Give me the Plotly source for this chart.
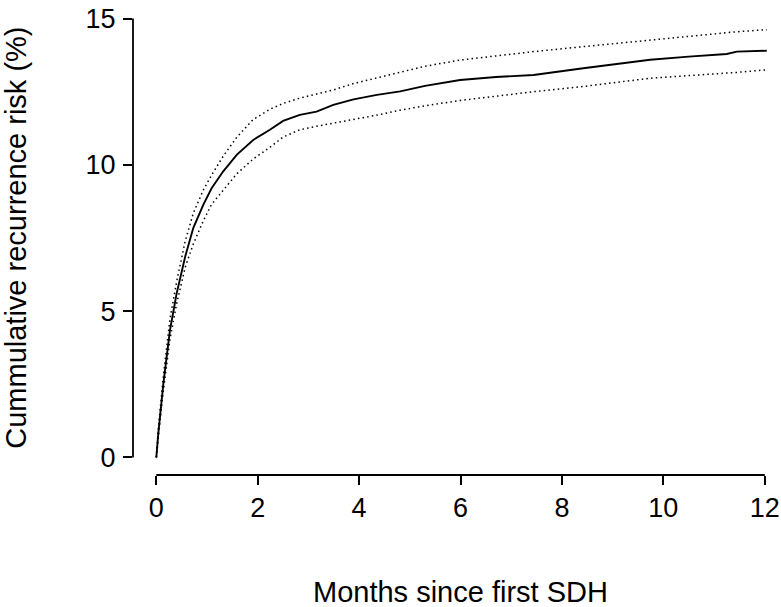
import plotly.graph_objects as go

# ---- data ----
months = [0, 0.02, 0.04, 0.14, 0.27, 0.40, 0.57, 0.73, 0.93, 1.09, 1.32, 1.59, 1.91, 2.24,
          2.5, 2.83, 3.16, 3.49, 3.89, 4.35, 4.81, 5.3, 5.99, 6.7, 7.44, 8.42, 9.1, 9.74,
          10.5, 11.25, 11.45, 12.04]
risk = [0, 0.5, 0.84, 2.54, 4.36, 5.6, 6.87, 7.85, 8.65, 9.2, 9.78, 10.35, 10.85, 11.2,
        11.5, 11.71, 11.82, 12.05, 12.24, 12.39, 12.51, 12.7, 12.9, 13.0, 13.07, 13.30, 13.45, 13.59,
        13.7, 13.79, 13.87, 13.9]
upper = [0, 0.55, 1.0, 2.8, 4.75, 6.0, 7.4, 8.35, 9.15, 9.65, 10.3, 10.95, 11.55, 11.9,
         12.1, 12.28, 12.42, 12.56, 12.78, 12.97, 13.16, 13.37, 13.58, 13.73, 13.87, 14.04, 14.16, 14.27,
         14.4, 14.52, 14.55, 14.62]
lower = [0, 0.45, 0.7, 2.3, 4.05, 5.25, 6.5, 7.3, 8.1, 8.65, 9.15, 9.7, 10.2, 10.6,
         10.95, 11.2, 11.32, 11.42, 11.55, 11.7, 11.87, 12.02, 12.2, 12.35, 12.5, 12.68, 12.82, 12.96,
         13.05, 13.13, 13.16, 13.25]

x_ticks = [0, 2, 4, 6, 8, 10, 12]
y_ticks = [0, 5, 10, 15]
x_title = "Months since first SDH"
y_title = "Cummulative recurrence risk (%)"

FONT = "Liberation Sans, Arial, Helvetica, sans-serif"

fig = go.Figure()
for ci in (upper, lower):
    fig.add_trace(go.Scatter(x=months, y=ci, mode="lines",
                             line=dict(color="black", width=1.5, dash="1.5px,3.2px"),
                             hoverinfo="skip", showlegend=False))
fig.add_trace(go.Scatter(x=months, y=risk, mode="lines",
                         line=dict(color="black", width=1.9),
                         showlegend=False))

# R-style axis lines spanning only the tick range
fig.add_shape(type="line", xref="x", yref="paper", x0=x_ticks[0], x1=x_ticks[-1], y0=0, y1=0,
              line=dict(color="black", width=1.8))
fig.add_shape(type="line", xref="paper", yref="y", x0=0, x1=0, y0=y_ticks[0], y1=y_ticks[-1],
              line=dict(color="black", width=1.8))

fig.add_annotation(text=x_title, xref="x", yref="paper", x=6, y=-0.247,
                   xanchor="center", yanchor="middle", showarrow=False, borderpad=0,
                   font=dict(family=FONT, size=29, color="black"))
fig.add_annotation(text=y_title, xref="paper", yref="y", x=-0.181, y=7.5,
                   xanchor="center", yanchor="middle", showarrow=False, textangle=-90,
                   borderpad=0, font=dict(family=FONT, size=29, color="black"))

fig.update_layout(
    width=781, height=607,
    margin=dict(l=133, r=0, t=1, b=132, pad=0),
    plot_bgcolor="white", paper_bgcolor="white",
    font=dict(family=FONT, size=27, color="black"),
)
fig.update_xaxes(range=[-0.46, 12.32], tickvals=x_ticks, ticks="outside", ticklen=9,
                 tickwidth=1.8, tickcolor="black", showline=False, showgrid=False,
                 zeroline=False, automargin=False, ticklabelstandoff=0,
                 tickfont=dict(family=FONT, size=27, color="black"))
fig.update_yaxes(range=[-0.6, 15.6], tickvals=y_ticks, ticks="outside", ticklen=9,
                 tickwidth=1.8, tickcolor="black", showline=False, showgrid=False,
                 zeroline=False, automargin=False, ticklabelstandoff=2,
                 tickfont=dict(family=FONT, size=27, color="black"))

fig.write_html("out.html", config={"displayModeBar": False},
               post_script="document.body.style.margin='0';document.body.style.overflow='hidden';")
